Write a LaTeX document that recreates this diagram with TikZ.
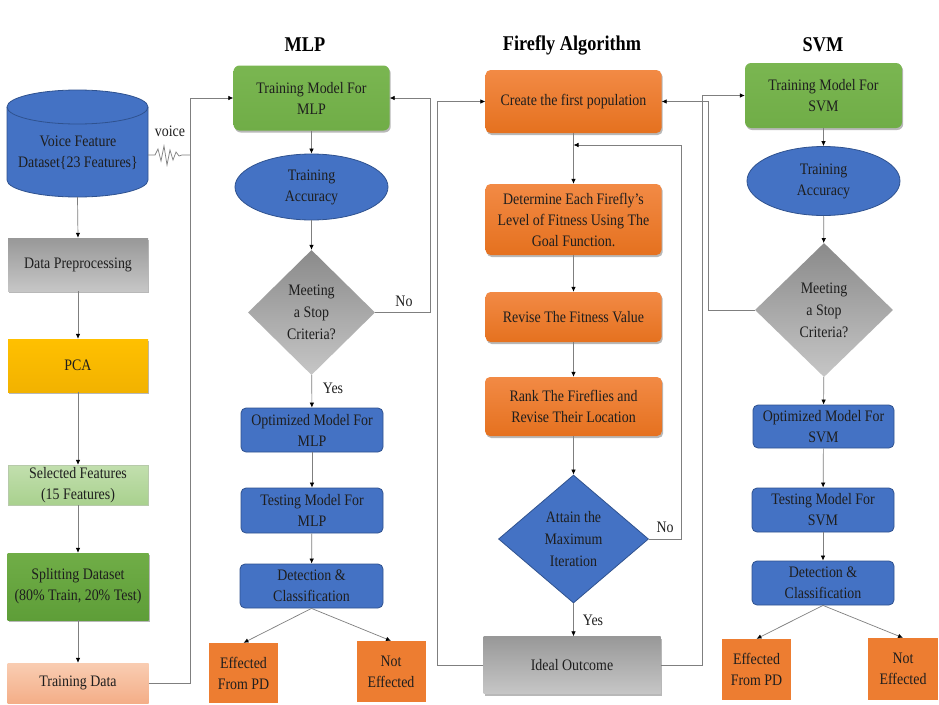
\documentclass[tikz,border=0pt]{standalone}
\usepackage{fontspec}
\setmainfont{Liberation Serif}[FakeStretch=0.87]
\usetikzlibrary{shapes.geometric,arrows.meta,shadows}
\definecolor{blueF}{HTML}{4472C4}
\definecolor{blueD}{HTML}{2F528F}
\definecolor{greenF}{HTML}{70AD47}
\definecolor{greenT}{HTML}{7AB651}
\definecolor{greenD}{HTML}{507E32}
\definecolor{greenS}{HTML}{5E9E38}
\definecolor{orangeT}{HTML}{F28A45}
\definecolor{orangeB}{HTML}{E5711F}
\definecolor{orangeD}{HTML}{C55A11}
\definecolor{effC}{HTML}{ED7D31}
\definecolor{grayT}{HTML}{989898}
\definecolor{grayB}{HTML}{C6C6C6}
\definecolor{grayD}{HTML}{8A8A8A}
\definecolor{goldT}{HTML}{FFC000}
\definecolor{goldB}{HTML}{F2B200}
\definecolor{lgreenT}{HTML}{C2DFAE}
\definecolor{lgreenB}{HTML}{A9D18E}
\definecolor{salT}{HTML}{F9CDB2}
\definecolor{salB}{HTML}{F4AE88}
\definecolor{lineC}{HTML}{7F7F7F}
\definecolor{txt}{HTML}{1E1E1E}
\newcommand\bodyfont{\fontsize{16}{21}\selectfont}
\newcommand\titlefont{\fontsize{21}{24}\selectfont\bfseries}
\begin{document}
\begin{tikzpicture}[x=1pt,y=-1pt,
  base/.style={align=center, font=\bodyfont, text=txt, inner sep=1pt},
  sz/.style 2 args={minimum width=#1pt, minimum height=#2pt},
  shad/.style={drop shadow={shadow xshift=1.2pt, shadow yshift=-2pt, opacity=0.28, fill=black}},
  bluebox/.style={base, rectangle, rounded corners=5pt, fill=blueF, draw=blueD, line width=0.8pt},
  greenbox/.style={base, rectangle, rounded corners=6pt, top color=greenT, bottom color=greenF, draw=none, shad},
  orangebox/.style={base, rectangle, rounded corners=5pt, top color=orangeT, bottom color=orangeB, draw=none, shad},
  graybox/.style={base, rectangle, top color=grayT, bottom color=grayB, draw=none, shad},
  effbox/.style={base, rectangle, fill=effC, draw=none},
  blueell/.style={base, ellipse, inner sep=0pt, fill=blueF, draw=blueD, line width=0.8pt},
  graydia/.style={base, diamond, inner sep=0pt, top color=grayD, bottom color=grayB, draw=none, font=\fontsize{16}{22}\selectfont},
  bluedia/.style={base, diamond, inner sep=0pt, fill=blueF, draw=blueD, line width=0.8pt, font=\fontsize{16}{22}\selectfont},
  conn/.style={draw=lineC, line width=0.7pt, -{Latex[length=5pt,width=4.5pt,color=black]}},
  plain/.style={draw=lineC, line width=0.7pt},
  lab/.style={font=\bodyfont, text=txt, inner sep=1pt},
  ttl/.style={font=\titlefont, text=black, inner sep=0pt}
]
\useasboundingbox[fill=white] (0,0) rectangle (939,704);

% titles
\node[ttl] (tmlp) at (305,45) {MLP};
\node[ttl] (tff) at (572,45) {Firefly Algorithm};
\node[ttl] (tsvm) at (823,45) {SVM};

% ---------- left column ----------
\node[sz={141}{107}, inner sep=0pt] (cyl) at (77.5,143.5) {};
\path[fill=blueF, draw=blueD, line width=0.8pt] (7,107) -- (7,180)
   arc[start angle=180, end angle=360, x radius=70.5pt, y radius=17pt] -- (148,107)
   arc[start angle=0, end angle=180, x radius=70.5pt, y radius=17pt] -- cycle;
\draw[blueD, line width=0.8pt] (7,107) arc[start angle=180, end angle=360, x radius=70.5pt, y radius=17pt];
\node[base] (cyltext) at (78,153) {Voice Feature\\Dataset\{23 Features\}};

\node[graybox, sz={140}{53}] (prep) at (78,264.5) {Data Preprocessing};
\node[base, rectangle, top color=goldT, bottom color=goldB, shad, sz={140}{53}] (pca) at (78,365.5) {PCA};
\node[base, rectangle, top color=lgreenT, bottom color=lgreenB, draw=lgreenB!80!black!60, line width=0.4pt, sz={140}{40}] (sel) at (78,485) {Selected Features\\(15 Features)};
\node[base, rectangle, top color=greenF, bottom color=greenS, shad, sz={141}{67}] (split) at (78,586.5) {Splitting Dataset\\(80\% Train, 20\% Test)};
\node[base, rectangle, top color=salT, bottom color=salB, sz={141}{40}] (tdata) at (78,683) {Training Data};

\draw[conn] (cyl.south) -- (prep.north);
\draw[conn] (prep) -- (pca);
\draw[conn] (pca) -- (sel);
\draw[conn] (sel) -- (split);
\draw[conn] (split) -- (tdata);

% voice signal
\coordinate (vs) at (148,155);
\coordinate (vj) at (190,155);
\draw[plain] (vs) -- (155,155) -- (158,149) -- (161,161) -- (164,146) -- (167,165) -- (170,150) -- (173,160) -- (176,152) -- (179,156) -- (182,155) -- (vj);
\node[lab] (voice) at (170,131) {voice};

% ---------- MLP column ----------
\node[greenbox, sz={156}{65}] (mlptrain) at (311.5,98) {Training Model For\\MLP};
\node[blueell, sz={153}{66}] (mlpacc) at (311.5,187) {Training\\Accuracy};
\node[graydia, sz={127}{125}] (mlpdia) at (311.5,312.5) {Meeting\\a Stop\\Criteria?};
\node[bluebox, sz={142}{44}] (mlpopt) at (312,430) {Optimized Model For\\MLP};
\node[bluebox, sz={142}{45}] (mlptest) at (312,510.5) {Testing Model For\\MLP};
\node[bluebox, sz={143}{44}] (mlpdet) at (311.5,586) {Detection \&\\Classification};
\node[effbox, sz={69}{60}] (mlpeff) at (243.5,673) {Effected\\From PD};
\node[effbox, sz={69}{61}] (mlpnot) at (391,671.5) {Not\\Effected};

\draw[conn] (mlptrain) -- (mlpacc);
\draw[conn] (mlpacc) -- (mlpdia);
\draw[conn] (mlpdia) -- (mlpopt);
\node[lab] (yes1) at (333,388) {Yes};
\draw[conn] (mlpopt) -- (mlptest);
\draw[conn] (mlptest) -- (mlpdet);
\draw[conn] (mlpdet.south) -- (mlpeff.north);
\draw[conn] (mlpdet.south) -- (mlpnot.north);

% ---------- Firefly column ----------
\node[orangebox, sz={176}{63}] (create) at (573.5,101.5) {Create the first population};
\node[orangebox, sz={176}{71}] (det) at (573.5,219.5) {Determine Each Firefly's\\Level of Fitness Using The\\Goal Function.};
\node[orangebox, sz={176}{50}] (rev) at (573.5,317) {Revise The Fitness Value};
\node[orangebox, sz={177}{59}] (rank) at (573.5,406.5) {Rank The Fireflies and\\Revise Their Location};
\node[bluedia, sz={150}{128}] (attain) at (573.5,539) {Attain the\\Maximum\\Iteration};
\node[graybox, sz={177}{57}] (ideal) at (572,665) {Ideal Outcome};

\draw[conn] (create) -- (det);
\draw[conn] (det) -- (rev);
\draw[conn] (rev) -- (rank);
\draw[conn] (rank) -- (attain);
\draw[conn] (attain.south) -- (attain.south |- ideal.north);
\node[lab] (yes2) at (593,620) {Yes};

% ---------- SVM column ----------
\node[greenbox, sz={157}{65}] (svmtrain) at (823.5,95.5) {Training Model For\\SVM};
\node[blueell, sz={153}{69}] (svmacc) at (823.5,181) {Training\\Accuracy};
\node[graydia, sz={138}{134}] (svmdia) at (824,310) {Meeting\\a Stop\\Criteria?};
\node[bluebox, sz={141}{43}] (svmopt) at (823.5,426.5) {Optimized Model For\\SVM};
\node[bluebox, sz={142}{44}] (svmtest) at (823,510) {Testing Model For\\SVM};
\node[bluebox, sz={142}{44}] (svmdet) at (823,583) {Detection \&\\Classification};
\node[effbox, sz={69}{61}] (svmeff) at (756.5,669.5) {Effected\\From PD};
\node[effbox, sz={70}{62}] (svmnot) at (903,669) {Not\\Effected};

\draw[conn] (svmtrain) -- (svmacc);
\draw[conn] (svmacc) -- (svmdia);
\draw[conn] (svmdia) -- (svmopt);
\draw[conn] (svmopt) -- (svmtest);
\draw[conn] (svmtest) -- (svmdet);
\draw[conn] (svmdet.south) -- (svmeff.north);
\draw[conn] (svmdet.south) -- (svmnot.north);

% ---------- cross connectors ----------
\coordinate (jL) at (190,98);
\draw[conn] (tdata.east) -| (jL) -- (mlptrain.west);

\coordinate (nL) at (430,98);
\draw[conn] (mlpdia.east) -| (nL) -- (mlptrain.east);
\node[lab] (no1) at (404,301) {No};

\coordinate (iL) at (437,101.5);
\draw[conn] (ideal.west) -| (iL) -- (create.west);

\coordinate (lp) at (681,145);
\coordinate (lpin) at (573.5,145);
\draw[conn] (attain.east) -| (lp) -- (lpin);
\node[lab] (no2) at (665,527) {No};

\coordinate (sR) at (708,101.5);
\draw[conn] (svmdia.west) -| (sR) -- (create.east);

\coordinate (iR) at (702,95.5);
\draw[conn] (ideal.east) -| (iR) -- (svmtrain.west);
\end{tikzpicture}
\end{document}
